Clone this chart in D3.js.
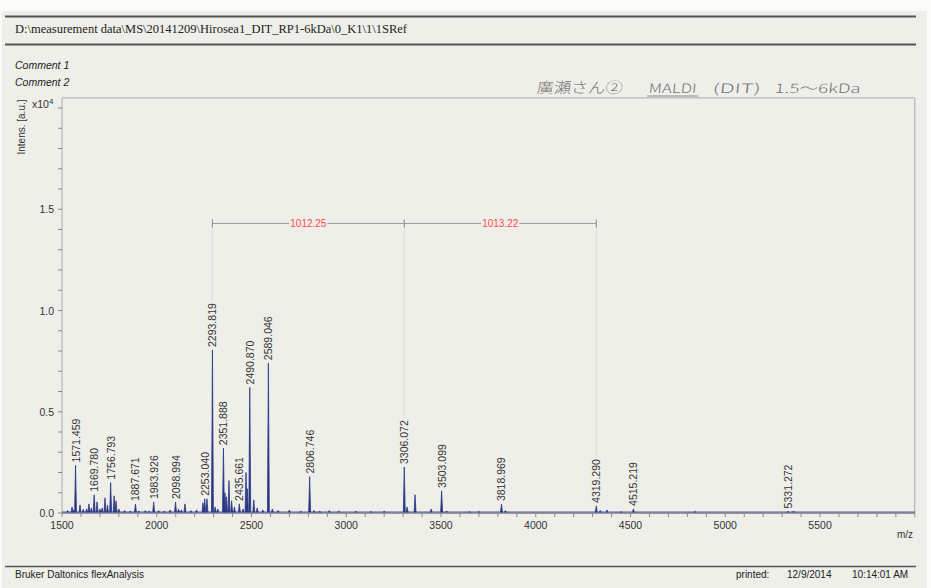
<!DOCTYPE html>
<html><head><meta charset="utf-8">
<script src="https://cdn.jsdelivr.net/npm/d3@7"></script>
<style>
html,body{margin:0;padding:0;background:#fbfbf9;}
svg{display:block;}
</style></head>
<body>
<svg id="c" width="931" height="588"></svg>
<script>
// ---------- DATA ----------
const headerPath = "D:\\measurement data\\MS\\20141209\\Hirosea1_DIT_RP1-6kDa\\0_K1\\1\\1SRef";
const comments = ["Comment 1", "Comment 2"];
const labeledMz = [1571.459, 1669.780, 1756.793, 1887.671, 1983.926, 2098.994, 2253.040, 2293.819, 2351.888, 2435.661, 2490.870, 2589.046, 2806.746, 3306.072, 3503.099, 3818.969, 4319.290, 4515.219, 5331.272];
const labeledInt = [0.235, 0.090, 0.150, 0.044, 0.054, 0.054, 0.070, 0.805, 0.320, 0.045, 0.620, 0.740, 0.180, 0.227, 0.109, 0.044, 0.035, 0.020, 0.008];
const minorMz = [1530, 1553, 1560, 1595, 1612, 1630, 1642, 1655, 1685, 1700, 1712, 1727, 1740, 1775, 1785, 1800, 1830, 1860, 1905, 1940, 1960, 2010, 2040, 2070, 2115, 2130, 2149, 2180, 2210, 2244, 2265, 2308, 2322, 2360, 2368, 2381, 2395, 2410, 2455, 2471, 2478, 2512, 2530, 2560, 2610, 2640, 2700, 2760, 2830, 2860, 2910, 2960, 3050, 3130, 3200, 3321, 3363, 3448, 3530, 3650, 3700, 3840, 4340, 4376, 4450, 4840, 5360];
const minorInt = [0.012, 0.030, 0.015, 0.040, 0.018, 0.020, 0.045, 0.025, 0.055, 0.020, 0.025, 0.075, 0.040, 0.085, 0.060, 0.020, 0.012, 0.010, 0.010, 0.012, 0.010, 0.012, 0.010, 0.015, 0.020, 0.015, 0.045, 0.012, 0.015, 0.050, 0.070, 0.030, 0.020, 0.100, 0.080, 0.160, 0.060, 0.030, 0.020, 0.200, 0.120, 0.065, 0.025, 0.015, 0.020, 0.012, 0.015, 0.010, 0.012, 0.010, 0.012, 0.010, 0.010, 0.008, 0.010, 0.030, 0.090, 0.020, 0.010, 0.008, 0.008, 0.012, 0.012, 0.015, 0.006, 0.008, 0.010];
const xMajorTicks = [1500, 2000, 2500, 3000, 3500, 4000, 4500, 5000, 5500];
const xMinorTicks = d3.range(1500, 6001, 100);
const yMajorTicks = [0, 0.5, 1.0, 1.5];
const yMinorTicks = d3.range(0, 21).map(i => i / 10);
const measureMz = [2293.819, 3306.072, 4319.290];
const measureLabels = ["1012.25", "1013.22"];
const measureLevel = 1.43;
const footerLeft = "Bruker Daltonics flexAnalysis";
const footerRight = ["printed:", "12/9/2014", "10:14:01 AM"];
const handNotes = ["廣瀬さん②", "MALDI", "(DIT)", "1.5～6kDa"];

// ---------- DRAW ----------
const svg = d3.select("#c");
const paper = "#efefe9";
svg.append("rect").attr("x", 2).attr("y", 11).attr("width", 925).attr("height", 577).attr("fill", paper);

const x = d3.scaleLinear().domain([1500, 6000]).range([62, 914.8]);
const y = d3.scaleLinear().domain([0, 2.0]).range([513, 108]);
const textCol = "#333";
const font = "Arial, 'Liberation Sans', sans-serif";

// header
svg.append("line").attr("x1", 5).attr("x2", 916).attr("y1", 16.5).attr("y2", 16.5).attr("stroke", "#555").attr("stroke-width", 2);
svg.append("line").attr("x1", 5).attr("x2", 916).attr("y1", 44.5).attr("y2", 44.5).attr("stroke", "#555").attr("stroke-width", 2);
svg.append("text").attr("x", 15).attr("y", 33).text(headerPath)
  .attr("font-family", "'Liberation Serif', 'Times New Roman', serif").attr("font-size", 12.5).attr("fill", "#222");
comments.forEach((c, i) => {
  svg.append("text").attr("x", 15).attr("y", 69 + i * 16.5).text(c)
    .attr("font-family", font).attr("font-style", "italic").attr("font-size", 10.5).attr("fill", "#222");
});

// handwriting (pencil)
const hw = svg.append("g").attr("fill", "#777").attr("font-family", "'Noto Sans CJK JP', sans-serif").attr("font-weight", 300);
const hwX = [536, 648, 712, 774];
const hwW = [86, 48, 48, 86];
handNotes.forEach((t, i) => {
  hw.append("text").attr("x", hwX[i]).attr("y", 93).attr("font-size", i === 0 ? 15 : 13)
    .attr("textLength", hwW[i]).attr("lengthAdjust", "spacingAndGlyphs")
    .attr("transform", `skewX(-6)`).attr("dx", 10).text(t);
});
hw.append("line").attr("x1", 647).attr("x2", 698).attr("y1", 96).attr("y2", 96).attr("stroke", "#888").attr("stroke-width", 1);

// frame
svg.append("path").attr("d", `M${x(1500)},${y(0)}V${y(2.05)}H${x(6000)}V${y(0)}`)
  .attr("fill", "none").attr("stroke", "#a8a8a8").attr("stroke-width", 1);
svg.append("line").attr("x1", x(1500)).attr("x2", x(6000)).attr("y1", y(0) + 0.5).attr("y2", y(0) + 0.5)
  .attr("stroke", "#999").attr("stroke-width", 1);

// y ticks
svg.selectAll(".ymin").data(yMinorTicks).join("line")
  .attr("x1", x(1500) - 4).attr("x2", x(1500)).attr("y1", d => y(d)).attr("y2", d => y(d))
  .attr("stroke", "#888").attr("stroke-width", 1);
svg.selectAll(".ylab").data(yMajorTicks).join("text")
  .attr("x", x(1500) - 8).attr("y", d => y(d) + 4).attr("text-anchor", "end")
  .attr("font-family", font).attr("font-size", 10.5).attr("fill", textCol).text(d => d.toFixed(1));
const exp = svg.append("text").attr("x", 32).attr("y", y(2.0)).attr("font-family", font).attr("font-size", 10.5).attr("fill", textCol);
exp.append("tspan").text("x10");
exp.append("tspan").attr("dy", -4).attr("font-size", 8).text("4");
svg.append("text").attr("transform", `translate(25,${127}) rotate(-90)`).attr("text-anchor", "middle")
  .attr("font-family", font).attr("font-size", 10).attr("fill", textCol).text("Intens. [a.u.]");

// x ticks
svg.selectAll(".xmin").data(xMinorTicks).join("line")
  .attr("x1", d => x(d)).attr("x2", d => x(d)).attr("y1", y(0)).attr("y2", y(0) + 4)
  .attr("stroke", "#888").attr("stroke-width", 1);
svg.selectAll(".xlab").data(xMajorTicks).join("text")
  .attr("x", d => x(d)).attr("y", y(0) + 16).attr("text-anchor", "middle")
  .attr("font-family", font).attr("font-size", 10.5).attr("fill", textCol).text(d => d);
svg.append("text").attr("x", 913).attr("y", 538).attr("text-anchor", "end")
  .attr("font-family", font).attr("font-size", 10).attr("fill", textCol).text("m/z");

// spectrum
const specCol = "#2c3684";
const hwDa = 5;
const peakLine = d3.line().x(d => x(d[0])).y(d => y(d[1]));
svg.append("line").attr("x1", x(1500)).attr("x2", x(6000)).attr("y1", y(0.004)).attr("y2", y(0.004))
  .attr("stroke", specCol).attr("stroke-width", 1.3).attr("opacity", 0.8);
const allPeaks = minorMz.map((m, i) => [m, minorInt[i]]).concat(labeledMz.map((m, i) => [m, labeledInt[i]]));
svg.selectAll(".pk").data(allPeaks).join("path")
  .attr("d", d => peakLine([[d[0] - hwDa, 0.004], [d[0], d[1]], [d[0] + hwDa, 0.004]]))
  .attr("fill", specCol).attr("stroke", specCol).attr("stroke-width", 0.8).attr("stroke-linejoin", "miter");

// peak labels
const labelSize = 10.5;
svg.selectAll(".plab").data(labeledMz).join("text")
  .attr("transform", (d, i) => `translate(${x(d) + 4},${y(labeledInt[i]) - 3}) rotate(-90)`)
  .attr("font-family", font).attr("font-size", labelSize).attr("fill", textCol).text(d => d.toFixed(3));

// measurement
const my = y(measureLevel);
const labelTop = mz => { const i = labeledMz.indexOf(mz); return y(labeledInt[i]) - 3 - 46; };
measureMz.forEach(m => {
  svg.append("line").attr("x1", x(m)).attr("x2", x(m)).attr("y1", my).attr("y2", labelTop(m))
    .attr("stroke", "#dcdcd8").attr("stroke-width", 1);
  svg.append("line").attr("x1", x(m)).attr("x2", x(m)).attr("y1", my - 4).attr("y2", my + 4)
    .attr("stroke", "#888").attr("stroke-width", 1);
});
svg.append("line").attr("x1", x(measureMz[0])).attr("x2", x(measureMz[2])).attr("y1", my).attr("y2", my)
  .attr("stroke", "#999").attr("stroke-width", 1);
measureLabels.forEach((l, i) => {
  const cx = (x(measureMz[i]) + x(measureMz[i + 1])) / 2;
  svg.append("rect").attr("x", cx - 19).attr("y", my - 6).attr("width", 38).attr("height", 12).attr("fill", paper);
  svg.append("text").attr("x", cx).attr("y", my + 3.5).attr("text-anchor", "middle")
    .attr("font-family", font).attr("font-size", 10).attr("fill", "#ff4a4a").text(l);
});

// footer
svg.append("line").attr("x1", 5).attr("x2", 916).attr("y1", 566.5).attr("y2", 566.5).attr("stroke", "#555").attr("stroke-width", 1.5);
svg.append("text").attr("x", 15).attr("y", 578).attr("font-family", font).attr("font-size", 10).attr("fill", "#222").text(footerLeft);
const frx = [736, 787, 852];
footerRight.forEach((t, i) => {
  svg.append("text").attr("x", frx[i]).attr("y", 578).attr("font-family", font).attr("font-size", 10).attr("fill", "#222").text(t);
});
</script>
</body></html>
